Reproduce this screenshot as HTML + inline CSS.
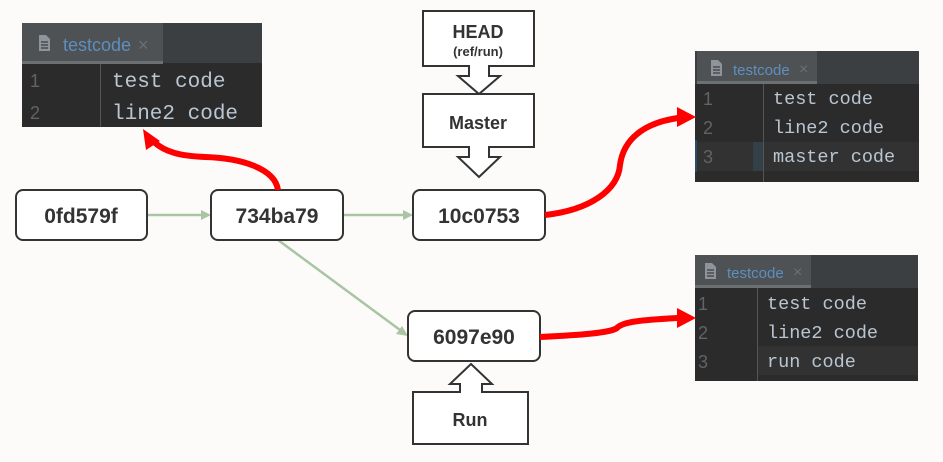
<!DOCTYPE html>
<html><head><meta charset="utf-8"><style>
html,body{margin:0;padding:0;background:#fcfbfa;}
svg{display:block}
.n{font-family:"Liberation Sans",sans-serif;font-weight:bold;fill:#333;}
.c{font-family:"Liberation Mono",monospace;fill:#b9c6d2;font-size:21px;}
.c2{font-family:"Liberation Mono",monospace;fill:#b9c6d2;font-size:18.5px;}
.ln{font-family:"Liberation Sans",sans-serif;fill:#5f6468;font-size:18px;}
.tab{font-family:"Liberation Sans",sans-serif;fill:#5d8fbf;font-size:18px;}
</style></head><body>
<svg width="943" height="462" viewBox="0 0 943 462">
<defs>
<g id="ficon"><path d="M0 0h7l4 4v12h-11z" fill="#8d949a"/><path d="M2 7h7M2 10h7M2 13h7" stroke="#3c3f41" stroke-width="1.3"/></g>
</defs>
<!-- panel 1 -->
<rect x="22" y="23" width="240" height="104" fill="#2b2b2b"/>
<rect x="22" y="23" width="240" height="40" fill="#3c3f41"/>
<rect x="22" y="23" width="141" height="40" fill="#4e5254"/>
<rect x="22" y="61" width="141" height="3" fill="#6b7073"/>
<use href="#ficon" x="39" y="35"/>
<text class="tab" x="63" y="51">testcode</text>
<text x="138" y="51" fill="#6b7073" font-size="18" font-family="Liberation Sans">×</text>
<rect x="100" y="64" width="1" height="63" fill="#555"/>
<text class="ln" x="30" y="87">1</text><text class="ln" x="30" y="119">2</text>
<text class="c" x="112" y="87">test code</text><text class="c" x="112" y="119">line2 code</text>
<!-- panel 2 -->
<rect x="695" y="51" width="224" height="131" fill="#2b2b2b"/>
<rect x="695" y="51" width="224" height="33" fill="#3c3f41"/>
<rect x="697" y="51" width="120" height="33" fill="#4e5254"/>
<rect x="697" y="81" width="120" height="3" fill="#6b7073"/>
<use href="#ficon" x="711" y="60"/>
<text class="tab" x="733" y="75" style="font-size:15px">testcode</text>
<text x="799" y="74" fill="#6b7073" font-size="16" font-family="Liberation Sans">×</text>
<rect x="695" y="142" width="224" height="29" fill="#323232"/>
<rect x="753" y="142" width="10" height="29" fill="#344048"/>
<rect x="695" y="140" width="2" height="32" fill="#2a4a66"/>
<rect x="763" y="84" width="1" height="98" fill="#555"/>
<text class="ln" x="703" y="105">1</text><text class="ln" x="703" y="134">2</text><text class="ln" x="703" y="163" fill="#a9b0b5">3</text>
<text class="c2" x="773" y="104">test code</text><text class="c2" x="773" y="133">line2 code</text><text class="c2" x="773" y="162">master code</text>
<!-- panel 3 -->
<rect x="695" y="255" width="223" height="126" fill="#2b2b2b"/>
<rect x="695" y="255" width="223" height="33" fill="#3c3f41"/>
<rect x="695" y="255" width="116" height="33" fill="#4e5254"/>
<rect x="695" y="285" width="116" height="3" fill="#6b7073"/>
<use href="#ficon" x="705" y="263"/>
<text class="tab" x="727" y="278" style="font-size:15px">testcode</text>
<text x="793" y="277" fill="#6b7073" font-size="16" font-family="Liberation Sans">×</text>
<rect x="757" y="346" width="161" height="29" fill="#323232"/>
<rect x="757" y="288" width="1" height="93" fill="#555"/>
<text class="ln" x="698" y="310">1</text><text class="ln" x="698" y="339">2</text><text class="ln" x="698" y="368" fill="#a9b0b5">3</text>
<text class="c2" x="767" y="309">test code</text><text class="c2" x="767" y="338">line2 code</text><text class="c2" x="767" y="367">run code</text>
<!-- green connectors -->
<g stroke="#a9c5a4" stroke-width="2.5" fill="#a9c5a4">
<line x1="147" y1="215" x2="202" y2="215"/><path d="M211 215l-10-5v10z" stroke="none"/>
<line x1="343" y1="215" x2="404" y2="215"/><path d="M413 215l-10-5v10z" stroke="none"/>
<line x1="278" y1="240" x2="400" y2="330"/><path d="M408 336l-6-10-6 8z" stroke="none"/>
</g>
<!-- nodes -->
<g fill="#fff" stroke="#333" stroke-width="2">
<rect x="16" y="190" width="131" height="50" rx="7"/>
<rect x="211" y="190" width="132" height="50" rx="7"/>
<rect x="413" y="190" width="132" height="50" rx="7"/>
<rect x="408" y="311" width="132" height="50" rx="7"/>
<path d="M423 11h111v55h-45v10h11l-21 18-21-18h11v-10h-46z"/>
<path d="M423 94h111v53h-45v10h11l-21 20-21-20h11v-10h-46z"/>
<path d="M413 392h115v52h-115z M460 392v-8h-10l21-20 21 20h-10v8"/>
</g>
<rect x="461" y="390" width="20" height="4" fill="#fff"/>
<g class="n" font-size="21" text-anchor="middle">
<text x="81" y="223">0fd579f</text>
<text x="277" y="223">734ba79</text>
<text x="479" y="223">10c0753</text>
<text x="474" y="344">6097e90</text>
<text x="478" y="38" font-size="18">HEAD</text>
<text x="478" y="56" font-size="13">(ref/run)</text>
<text x="478" y="129" font-size="18">Master</text>
<text x="470" y="426" font-size="18">Run</text>
</g>
<!-- red arrows -->
<g stroke="#ff0000" stroke-width="6" fill="none">
<path d="M278 190C275 168 240 158 205 157C180 156 165 152 154 142"/>
<path d="M545 215C590 210 618 190 620 165C624 135 650 122 678 118"/>
<path d="M540 337C580 335 610 333 617 328C622 322 640 320 678 318"/>
</g>
<g fill="#ff0000">
<path d="M143 129l3 21 14-9z"/>
<path d="M696 117l-19-10v20z"/>
<path d="M696 318l-19-10v20z"/>
</g>
</svg>
</body></html>
